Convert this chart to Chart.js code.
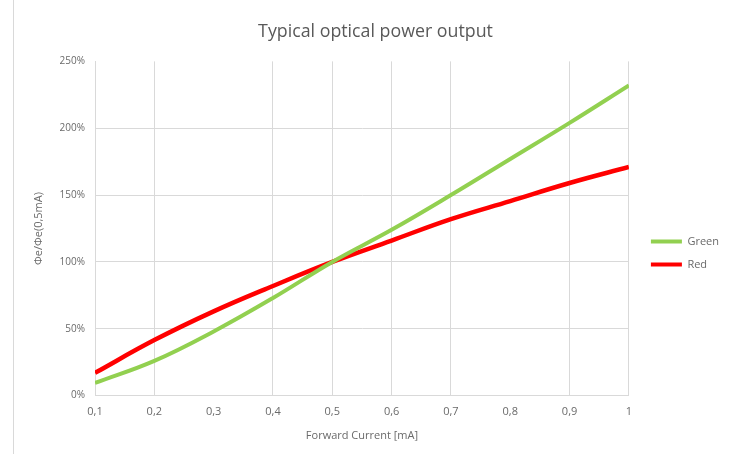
<!DOCTYPE html>
<html>
<head>
<meta charset="utf-8">
<script src="https://cdn.jsdelivr.net/npm/chart.js@4"></script>
<style>
  html, body { margin: 0; padding: 0; background: #ffffff; }
  #wrap { position: relative; width: 736px; height: 454px; }
  #frame { position: absolute; left: 13px; top: 0; width: 0; height: 454px; border-left: 1px solid #d9d9d9; }
  canvas { position: absolute; left: 0; top: 0; }
</style>
</head>
<body>
<div id="wrap">
  <div id="frame"></div>
  <canvas id="c" width="736" height="454"></canvas>
</div>
<script>
// Forward current (mA)
const currents = [0.1, 0.2, 0.3, 0.4, 0.5, 0.6, 0.7, 0.8, 0.9, 1.0];
// Relative optical power, % of value at 0.5 mA
const greenValues = [9.5, 26, 48, 73, 100, 124, 150, 177, 204, 232];
const redValues   = [17, 41.5, 63, 82, 100, 116, 132, 145.5, 159, 171];
const seriesNames = ['Green', 'Red'];
const chartTitle = 'Typical optical power output';
const xTitle = 'Forward Current [mA]';
const yTitle = 'Φe/Φe(0,5mA)';
// gridlines that are absent in the original
const hiddenXGrid = [0.3, 0.8];

const toPoints = vals => currents.map((x, i) => ({ x: x, y: vals[i] }));
const FONT = "'Open Sans', 'Noto Sans', sans-serif";
const GRID = '#d9d9d9';
const TXT = '#6a6a6a';

// nudge the legend to where the original places it
const legendNudge = {
  id: 'legendNudge',
  afterLayout(chart) {
    const lg = chart.legend;
    if (!lg) return;
    lg.left += 10; lg.right += 10;
    lg.top += 32; lg.bottom += 32;
  }
};

new Chart(document.getElementById('c'), {
  type: 'line',
  data: {
    datasets: [
      { label: seriesNames[0], data: toPoints(greenValues), borderColor: '#92D050', backgroundColor: '#92D050',
        borderWidth: 4, pointRadius: 0, tension: 0.4 },
      { label: seriesNames[1], data: toPoints(redValues), borderColor: '#FF0000', backgroundColor: '#FF0000',
        borderWidth: 4.5, pointRadius: 0, tension: 0.4 }
    ]
  },
  plugins: [legendNudge],
  options: {
    responsive: false,
    animation: false,
    devicePixelRatio: 1,
    layout: { padding: { left: 32, right: 17, top: 0, bottom: 12 } },
    plugins: {
      title: { display: true, text: chartTitle, color: '#595959',
        font: { family: FONT, size: 17.8, weight: 'normal' }, padding: { top: 21, bottom: 19 } },
      legend: {
        position: 'right', align: 'center',
        labels: {
          color: TXT, font: { family: FONT, size: 11 }, boxWidth: 31, boxHeight: 4, padding: 12,
          generateLabels: chart => chart.data.datasets.map((ds, i) => ({
            text: ds.label, fillStyle: ds.borderColor, strokeStyle: ds.borderColor, lineWidth: 0,
            fontColor: TXT, datasetIndex: i, hidden: false
          }))
        }
      },
      tooltip: { enabled: false }
    },
    scales: {
      x: {
        type: 'linear', min: 0.1, max: 1,
        ticks: { stepSize: 0.1, color: TXT, font: { family: FONT, size: 11 }, padding: 10,
          callback: v => String(Number(v.toFixed(1))).replace('.', ',') },
        grid: { drawTicks: false,
          color: c => (c.tick && hiddenXGrid.some(h => Math.abs(h - c.tick.value) < 1e-6)) ? 'rgba(0,0,0,0)' : GRID },
        border: { color: GRID },
        title: { display: true, text: xTitle, color: TXT, font: { family: FONT, size: 11 }, padding: { top: 0, bottom: 0 } }
      },
      y: {
        min: 0, max: 250,
        ticks: { stepSize: 50, color: TXT, font: { family: FONT, size: 10 }, padding: 10,
          callback: v => v + '%' },
        grid: { drawTicks: false, color: c => (c.tick && c.tick.value === 250) ? 'rgba(0,0,0,0)' : GRID },
        border: { color: GRID },
        title: { display: true, text: yTitle, color: TXT, font: { family: FONT, size: 11 }, padding: { top: 0, bottom: 8 } },
        afterFit: s => { s.width = 63; }
      }
    }
  }
});
</script>
</body>
</html>
